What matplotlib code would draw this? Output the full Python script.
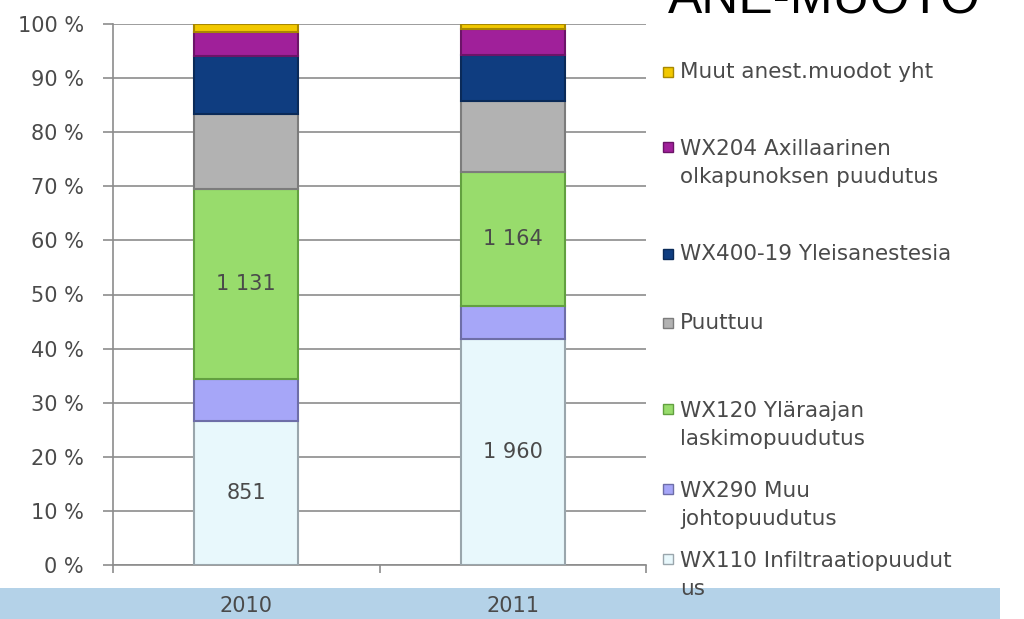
import matplotlib
matplotlib.use("Agg")
import matplotlib.pyplot as plt
from matplotlib.patches import Rectangle
import numpy as np

years = ["2010", "2011"]
# series in stacking order (bottom -> top); counts
series_names = [
    "WX110 Infiltraatiopuudut\nus",
    "WX290 Muu\njohtopuudutus",
    "WX120 Yläraajan\nlaskimopuudutus",
    "Puuttuu",
    "WX400-19 Yleisanestesia",
    "WX204 Axillaarinen\nolkapunoksen puudutus",
    "Muut anest.muodot yht",
]
infiltraatio = [851, 1960]
wx290 = [250, 281]
wx120 = [1131, 1164]
puuttuu = [442, 619]
wx400 = [342, 399]
wx204 = [147, 220]
muut = [45, 47]
labelled = [True, False, True, False, False, False, False]

colors = ["#e8f8fc", "#a6a6f8", "#98dc6c", "#b2b2b2", "#0f3d80", "#a0209a", "#f2c800"]
edges = ["#9aa6ac", "#6e6ea8", "#62a040", "#7c7c7c", "#0a2a58", "#6c1468", "#a88800"]
legend_y = [575, 505, 425, 323, 254, 163, 72]   # pixel centres of legend entries

data = np.array([infiltraatio, wx290, wx120, puuttuu, wx400, wx204, muut], dtype=float)
pct = data / data.sum(axis=0) * 100

W, H = 1024, 619
fig = plt.figure(figsize=(W / 100, H / 100), dpi=100)
fig.patch.set_facecolor("white")

# bottom band
fig.add_artist(Rectangle((0, 0), 1000 / W, 31 / H, transform=fig.transFigure,
                         facecolor="#b4d2e8", edgecolor="none", zorder=0))

ax = fig.add_axes([113 / W, 1 - 565 / H, (646 - 113) / W, (565 - 24) / H])
ax.set_zorder(1)
ax.patch.set_alpha(0)
x = np.arange(len(years))
bottom = np.zeros(len(years))
txtcol = "#4a4a4a"
font = "DejaVu Sans"
for i in range(len(series_names)):
    ax.bar(x, pct[i], 0.39, bottom=bottom, color=colors[i], edgecolor=edges[i],
           linewidth=1.5, zorder=3)
    if labelled[i]:
        for j in range(len(years)):
            v = int(data[i, j])
            s = f"{v:,}".replace(",", " ")
            ax.text(x[j], bottom[j] + pct[i, j] / 2, s, ha="center", va="center",
                    fontsize=15, color=txtcol, family=font, zorder=4)
    bottom += pct[i]

ax.set_xlim(-0.5, 1.5)
ax.set_ylim(0, 100)
ax.set_yticks(np.arange(0, 101, 10))
ax.set_yticklabels([f"{v} %" for v in range(0, 101, 10)], fontsize=15,
                   color=txtcol, family=font)
ax.yaxis.grid(True, color="#8c8c8c", linewidth=1.2, zorder=0)
ax.set_axisbelow(True)
ax.tick_params(axis="y", length=7, width=1.2, color="#8c8c8c", pad=14)
ax.set_xticks(x)
ax.set_xticklabels(years, fontsize=15, color=txtcol, family=font)
ax.set_xticks([-0.5, 0.5, 1.5], minor=True)
ax.tick_params(axis="x", which="major", length=0, pad=22)
ax.tick_params(axis="x", which="minor", length=6, width=1.2, color="#8c8c8c")
for s in ["top", "right"]:
    ax.spines[s].set_visible(False)
for s in ["left", "bottom"]:
    ax.spines[s].set_color("#8c8c8c")
    ax.spines[s].set_linewidth(1.2)

# legend (manual, to keep the irregular spacing)
for i in range(len(series_names)):
    yc = 1 - legend_y[i] / H
    two = "\n" in series_names[i]
    fig.add_artist(Rectangle((663 / W, yc - 5 / H + (16 / H if two else 0)),
                             10 / W, 10 / H, transform=fig.transFigure,
                             facecolor=colors[i], edgecolor=edges[i], linewidth=1))
    fig.text(680 / W, yc, series_names[i], ha="left", va="center", fontsize=15.5,
             color=txtcol, family=font, linespacing=1.45)

fig.text(668 / W, 1 - 13 / H, "ANE-MUOTO", ha="left", va="baseline", fontsize=37,
         color="black", family="Liberation Sans")

fig.savefig("out.png", dpi=100)
